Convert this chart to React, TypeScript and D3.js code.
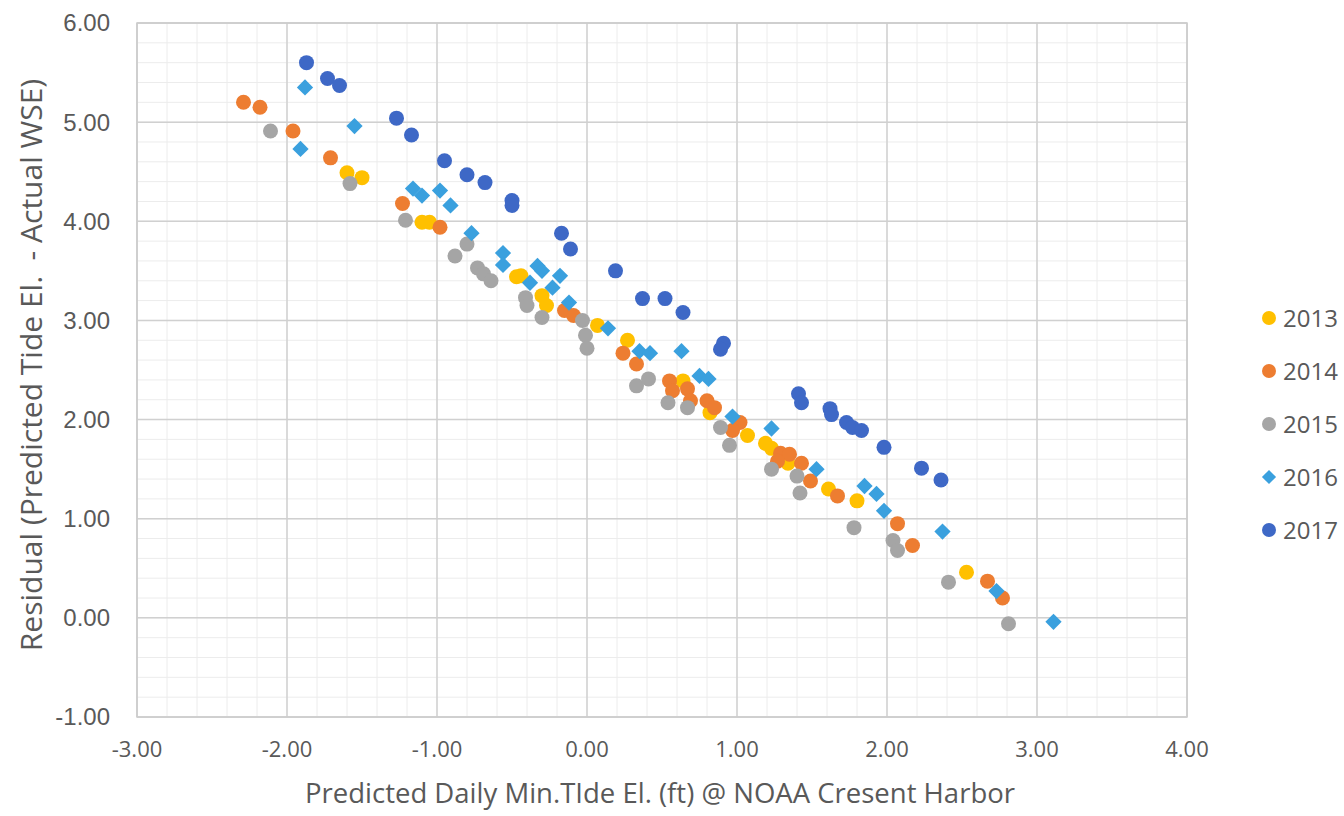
import * as d3 from 'd3';
import React from 'react';

const WIDTH = 1344;
const HEIGHT = 816;

// [predicted min tide el. (ft), residual (ft)]
const points2013: [number, number][] = [
    [-1.6, 4.49], [-1.5, 4.44], [-1.1, 3.99], [-1.05, 3.99], [-0.47, 3.44], [-0.44, 3.45],
    [-0.3, 3.25], [-0.27, 3.15], [0.07, 2.95], [0.27, 2.8], [0.64, 2.39], [0.82, 2.07],
    [1.07, 1.84], [1.19, 1.76], [1.23, 1.71], [1.34, 1.56], [1.61, 1.3], [1.8, 1.18], [2.53, 0.46],
];
const points2014: [number, number][] = [
    [-2.29, 5.2], [-2.18, 5.15], [-1.96, 4.91], [-1.71, 4.64], [-1.23, 4.18], [-0.98, 3.94],
    [-0.15, 3.1], [-0.09, 3.05], [0.24, 2.67], [0.33, 2.56], [0.55, 2.39], [0.57, 2.29],
    [0.67, 2.31], [0.69, 2.19], [0.8, 2.19], [0.85, 2.12], [1.02, 1.97], [0.97, 1.89],
    [1.29, 1.66], [1.35, 1.65], [1.27, 1.58], [1.43, 1.56], [1.49, 1.38], [1.67, 1.23],
    [2.07, 0.95], [2.17, 0.73], [2.67, 0.37], [2.77, 0.2],
];
const points2015: [number, number][] = [
    [-2.11, 4.91], [-1.58, 4.38], [-1.21, 4.01], [-0.88, 3.65], [-0.8, 3.77], [-0.73, 3.53],
    [-0.69, 3.47], [-0.64, 3.4], [-0.41, 3.23], [-0.4, 3.15], [-0.3, 3.03], [-0.03, 3.0],
    [-0.01, 2.85], [0.0, 2.72], [0.33, 2.34], [0.41, 2.41], [0.54, 2.17], [0.67, 2.12],
    [0.89, 1.92], [0.95, 1.74], [1.23, 1.5], [1.4, 1.43], [1.42, 1.26], [1.78, 0.91],
    [2.04, 0.78], [2.07, 0.68], [2.41, 0.36], [2.81, -0.06],
];
const points2016: [number, number][] = [
    [-1.88, 5.35], [-1.55, 4.96], [-1.91, 4.73], [-1.16, 4.33], [-1.1, 4.26], [-0.98, 4.31],
    [-0.91, 4.16], [-0.77, 3.88], [-0.56, 3.68], [-0.56, 3.56], [-0.33, 3.55], [-0.3, 3.5],
    [-0.38, 3.38], [-0.23, 3.33], [-0.18, 3.45], [-0.12, 3.18], [0.14, 2.92], [0.35, 2.69],
    [0.42, 2.67], [0.63, 2.69], [0.75, 2.44], [0.81, 2.41], [0.97, 2.03], [1.23, 1.91],
    [1.53, 1.5], [1.85, 1.33], [1.93, 1.25], [1.98, 1.08], [2.37, 0.87], [2.73, 0.27], [3.11, -0.04],
];
const points2017: [number, number][] = [
    [-1.87, 5.6], [-1.73, 5.44], [-1.65, 5.37], [-1.27, 5.04], [-1.17, 4.87], [-0.95, 4.61],
    [-0.8, 4.47], [-0.68, 4.39], [-0.5, 4.21], [-0.5, 4.16], [-0.17, 3.88], [-0.11, 3.72],
    [0.19, 3.5], [0.37, 3.22], [0.52, 3.22], [0.64, 3.08], [0.91, 2.77], [0.89, 2.71],
    [1.41, 2.26], [1.43, 2.17], [1.62, 2.11], [1.63, 2.05], [1.73, 1.97], [1.77, 1.92],
    [1.83, 1.89], [1.98, 1.72], [2.23, 1.51], [2.36, 1.39],
];

const seriesNames = ['2013', '2014', '2015', '2016', '2017'];
const seriesColors = ['#FFC000', '#ED7D31', '#A5A5A5', '#3AA0DE', '#3E68C6'];
const seriesShapes = ['circle', 'circle', 'circle', 'diamond', 'circle'];
const seriesPoints = [points2013, points2014, points2015, points2016, points2017];

const xTicks = [-3, -2, -1, 0, 1, 2, 3, 4];
const yTicks = [-1, 0, 1, 2, 3, 4, 5, 6];

const X_TITLE = 'Predicted Daily Min.TIde El. (ft) @ NOAA Cresent Harbor';
const Y_TITLE = 'Residual (Predicted Tide El.  - Actual WSE)';

const margin = { top: 23, right: 157, bottom: 99, left: 137 };
const innerW = WIDTH - margin.left - margin.right;
const innerH = HEIGHT - margin.top - margin.bottom;

const x = d3.scaleLinear().domain([-3, 4]).range([0, innerW]);
const y = d3.scaleLinear().domain([-1, 6]).range([innerH, 0]);

const minorX = d3.range(-3, 4.0001, 0.2);
const minorY = d3.range(-1, 6.0001, 0.2);

const circleSym = d3.symbol().type(d3.symbolCircle).size(Math.PI * 7.5 * 7.5);
const diamondSym = d3.symbol().type(d3.symbolSquare).size(11.5 * 11.5);
const legendCircle = d3.symbol().type(d3.symbolCircle).size(Math.PI * 7 * 7);
const legendDiamond = d3.symbol().type(d3.symbolSquare).size(10 * 10);

const textColor = '#595959';
const font = '"Liberation Sans", Arial, sans-serif';
const titleFont = '"Open Sans", sans-serif';

function Marker({ shape, color, cx, cy, legend }: { shape: string; color: string; cx: number; cy: number; legend?: boolean }) {
    const isDiamond = shape === 'diamond';
    const path = isDiamond ? (legend ? legendDiamond() : diamondSym()) : legend ? legendCircle() : circleSym();
    return (
        <path
            d={path ?? ''}
            fill={color}
            transform={`translate(${cx},${cy})${isDiamond ? ' rotate(45)' : ''}`}
        />
    );
}

export default function App() {
    return (
        <svg width={WIDTH} height={HEIGHT} style={{ position: 'absolute', left: 0, top: 0, background: '#fff' }}>
            <g transform={`translate(${margin.left},${margin.top})`}>
                {/* minor grid */}
                {minorX.map((v, i) => (
                    <line key={`mx${i}`} x1={x(v)} x2={x(v)} y1={0} y2={innerH} stroke="#ececec" strokeWidth={1} />
                ))}
                {minorY.map((v, i) => (
                    <line key={`my${i}`} x1={0} x2={innerW} y1={y(v)} y2={y(v)} stroke="#ececec" strokeWidth={1} />
                ))}
                {/* major grid */}
                {xTicks.map((v) => (
                    <line key={`gx${v}`} x1={x(v)} x2={x(v)} y1={0} y2={innerH} stroke="#d0d0d0" strokeWidth={1.5} />
                ))}
                {yTicks.map((v) => (
                    <line key={`gy${v}`} x1={0} x2={innerW} y1={y(v)} y2={y(v)} stroke="#d0d0d0" strokeWidth={1.5} />
                ))}
                <rect x={0} y={0} width={innerW} height={innerH} fill="none" stroke="#cccccc" strokeWidth={1.5} />

                {/* tick labels */}
                {yTicks.map((v) => (
                    <text
                        key={`ty${v}`}
                        x={-27}
                        y={y(v)}
                        dy="0.35em"
                        textAnchor="end"
                        fontFamily={font}
                        fontSize={24}
                        fill={textColor}
                    >
                        {v.toFixed(2)}
                    </text>
                ))}
                {xTicks.map((v) => (
                    <text
                        key={`tx${v}`}
                        x={x(v)}
                        y={innerH + 40}
                        textAnchor="middle"
                        fontFamily={titleFont}
                        fontSize={22}
                        fill={textColor}
                    >
                        {v.toFixed(2)}
                    </text>
                ))}

                {/* points */}
                {seriesPoints.map((pts, si) => (
                    <g key={seriesNames[si]}>
                        {pts.map((p, i) => (
                            <Marker key={i} shape={seriesShapes[si]} color={seriesColors[si]} cx={x(p[0])} cy={y(p[1])} />
                        ))}
                    </g>
                ))}
            </g>

            {/* axis titles */}
            <text
                x={660}
                y={HEIGHT - 13}
                textAnchor="middle"
                fontFamily={titleFont}
                fontSize={27.5}
                fill={textColor}
            >
                {X_TITLE}
            </text>
            <text
                transform={`translate(42,${365}) rotate(-90)`}
                textAnchor="middle"
                fontFamily={titleFont}
                fontSize={30}
                fill={textColor}
                style={{ whiteSpace: 'pre' }}
            >
                {Y_TITLE}
            </text>

            {/* legend */}
            {seriesNames.map((name, i) => (
                <g key={`lg${name}`} transform={`translate(1269,${318 + i * 53})`}>
                    <Marker shape={seriesShapes[i]} color={seriesColors[i]} cx={0} cy={0} legend />
                    <text x={14} y={0} dy="0.36em" fontFamily={titleFont} fontSize={24} fill={textColor}>
                        {name}
                    </text>
                </g>
            ))}
        </svg>
    );
}
